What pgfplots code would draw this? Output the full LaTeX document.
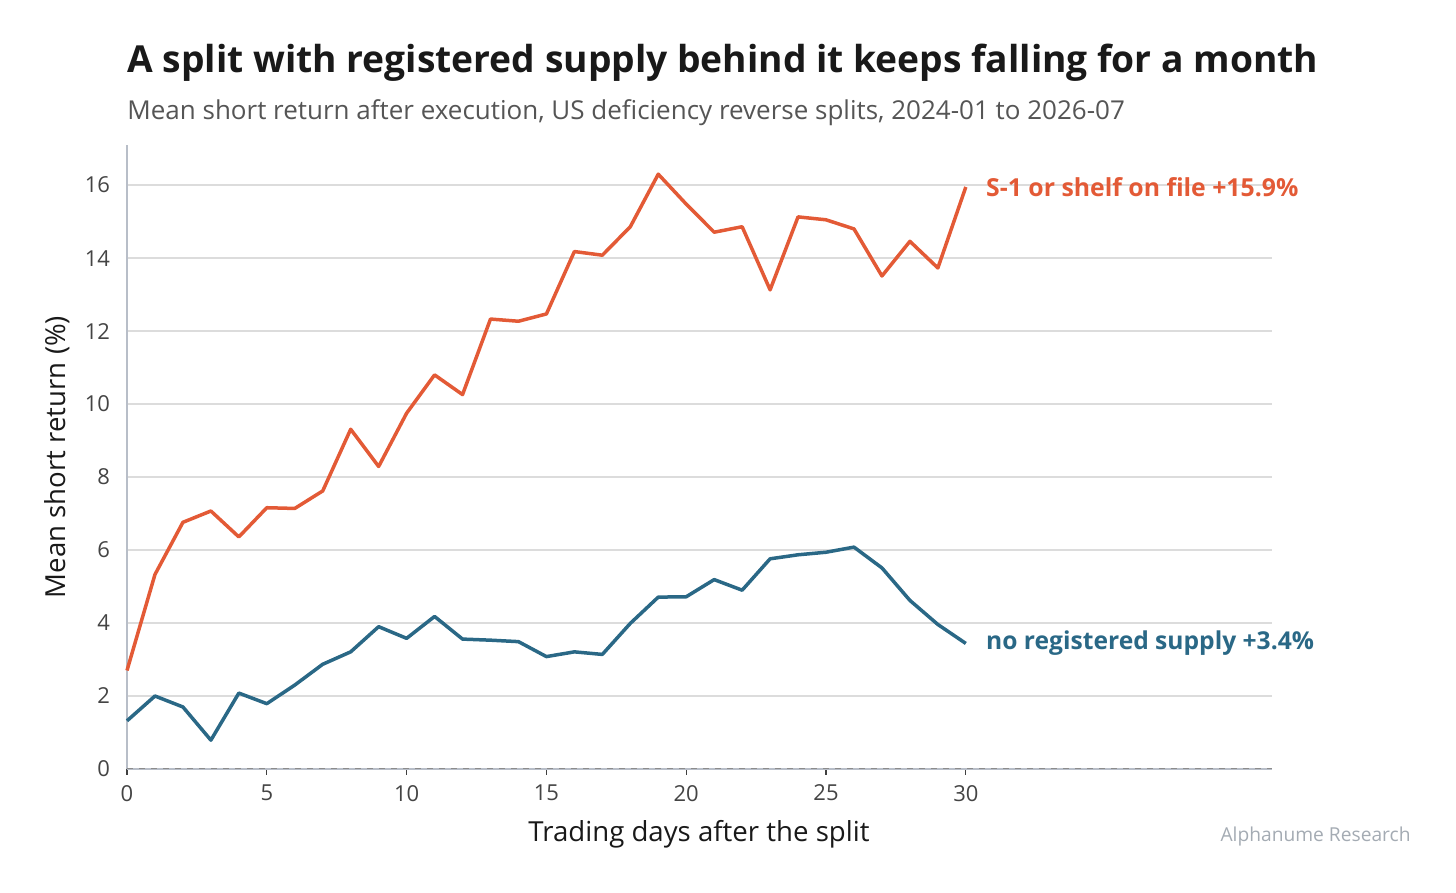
\documentclass[border=0pt]{standalone}
\usepackage{fontspec}
\setmainfont{Open Sans}
\usepackage{pgfplots}
\pgfplotsset{compat=1.18}
\definecolor{orangeS}{HTML}{E35A36}
\definecolor{blueS}{HTML}{2A6886}
\definecolor{axisgrey}{HTML}{B8BEC8}
\definecolor{gridgrey}{HTML}{DCDCDC}
\definecolor{ticktext}{HTML}{444444}
\definecolor{subgrey}{HTML}{555555}
\definecolor{footgrey}{HTML}{A4ABB3}
\begin{document}
\begin{tikzpicture}
\path[use as bounding box] (-63.5pt,-62pt) rectangle (664.5pt,384.5pt);
\begin{axis}[
  at={(0pt,0pt)}, anchor=south west,
  scale only axis, width=572.5pt, height=312pt,
  xmin=0, xmax=40.95, ymin=0, ymax=17.1,
  axis x line=bottom, axis y line=left,
  axis line style={-, draw=axisgrey, line width=1pt},
  xtick={0,5,...,30}, ytick={0,2,...,16},
  ymajorgrids, grid style={draw=gridgrey, line width=0.75pt},
  major tick length=3pt, tick align=outside,
  xtick style={draw=black!75, line width=0.6pt},
  ytick style={draw=none},
  /pgf/number format/assume math mode=true,
  ticklabel style={font=\fontsize{11}{13}\selectfont, text=ticktext},
  yticklabel style={xshift=-2pt},
  xticklabel style={yshift=-1.5pt},
  clip=false,
]
\addplot[forget plot, draw=black!45, dashed, line width=0.5pt] coordinates {(0,0) (40.95,0)};
\addplot[orangeS, line width=1.75pt, line join=round] coordinates {
(0,2.7) (1,5.33) (2,6.76) (3,7.07) (4,6.36) (5,7.16) (6,7.14) (7,7.62)
(8,9.31) (9,8.29) (10,9.75) (11,10.8) (12,10.26) (13,12.33) (14,12.27)
(15,12.47) (16,14.18) (17,14.08) (18,14.86) (19,16.3) (20,15.48)
(21,14.71) (22,14.86) (23,13.13) (24,15.13) (25,15.05) (26,14.8)
(27,13.51) (28,14.46) (29,13.73) (30,15.95)};
\addplot[blueS, line width=1.75pt, line join=round] coordinates {
(0,1.32) (1,2.0) (2,1.7) (3,0.79) (4,2.08) (5,1.79) (6,2.3) (7,2.87)
(8,3.21) (9,3.9) (10,3.58) (11,4.18) (12,3.56) (13,3.53) (14,3.49)
(15,3.08) (16,3.21) (17,3.14) (18,3.99) (19,4.71) (20,4.72) (21,5.19)
(22,4.9) (23,5.76) (24,5.87) (25,5.94) (26,6.08) (27,5.51) (28,4.62)
(29,3.96) (30,3.44)};
\node[anchor=west, inner sep=0pt, xshift=10pt, text=orangeS, font=\fontsize{12.4}{14}\selectfont\bfseries] at (axis cs:30,15.95) {S-1 or shelf on file +15.9\%};
\node[anchor=west, inner sep=0pt, xshift=10pt, text=blueS, font=\fontsize{12.3}{14}\selectfont\bfseries] at (axis cs:30,3.44) {no registered supply +3.4\%};
\end{axis}
\node[anchor=base west, inner sep=0pt, font=\fontsize{18.6}{22}\selectfont\bfseries, text=black!90] at (0pt,348pt) {A split with registered supply behind it keeps falling for a month};
\node[anchor=base west, inner sep=0pt, font=\fontsize{13}{15}\selectfont, text=subgrey] at (0pt,324.5pt) {Mean short return after execution, US deficiency reverse splits, 2024-01 to 2026-07};
\node[rotate=90, anchor=center, inner sep=0pt, font=\fontsize{13.8}{16}\selectfont, text=black!90] at (-35pt,156pt) {Mean short return (\%)};
\node[anchor=base, inner sep=0pt, font=\fontsize{13.8}{16}\selectfont, text=black!90] at (286pt,-36.5pt) {Trading days after the split};
\node[anchor=base east, inner sep=0pt, font=\fontsize{9.6}{12}\selectfont, text=footgrey] at (642pt,-36.5pt) {Alphanume Research};
\end{tikzpicture}
\end{document}
